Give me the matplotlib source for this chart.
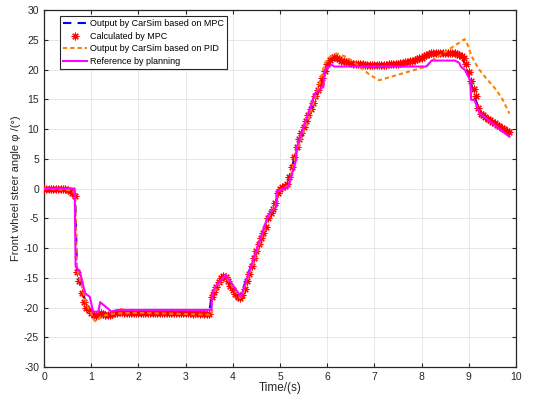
import numpy as np
import matplotlib
matplotlib.use("Agg")
import matplotlib.pyplot as plt
from matplotlib.lines import Line2D

plt.rcParams['font.family'] = ['Liberation Sans', 'DejaVu Sans']
plt.rcParams['axes.unicode_minus'] = False

# Reference by planning (breakpoints)
ref_t = [0, 0.65, 0.67, 0.76, 0.87, 0.97, 1.04, 1.15, 1.19, 1.43, 1.57, 3.55, 3.56, 3.66,
         3.85, 4.17, 4.75, 4.80, 4.92, 4.93, 5.18, 5.34, 5.35, 5.74, 5.92, 5.95, 6.09, 6.15,
         8.10, 8.21, 8.71, 8.80, 8.83, 8.92, 9.03, 9.05, 9.12, 9.23, 9.86]
ref_v = [0, 0, -13.1, -14.0, -17.6, -18.2, -20.7, -20.7, -19.1, -20.7, -20.4, -20.4, -17.6, -16.2,
         -14.5, -18.2, -4.5, -4.0, -3.1, -0.5, 0.3, 4.8, 6.8, 16.0, 17.1, 19.9, 20.8, 20.5,
         20.5, 21.5, 21.5, 21.1, 20.5, 19.9, 18.2, 14.9, 14.9, 12.6, 8.7]

# Output by CarSim based on PID (breakpoints)
pid_t = [0, 0.6, 0.66, 0.70, 0.80, 0.90, 1.00, 1.05, 1.10, 1.15, 1.20, 1.30, 1.50, 2.00, 3.00,
         3.55, 3.56, 3.80, 3.85, 4.15, 4.20, 4.75, 4.92, 4.95, 5.18, 5.35, 5.80, 5.95, 6.05,
         6.20, 6.41, 6.69, 6.90, 7.10, 8.10, 8.24, 8.91, 8.98, 9.05, 9.12, 9.23, 9.37, 9.58,
         9.72, 9.86]
pid_v = [0, -0.3, -1.0, -13.5, -16.5, -19.5, -21.0, -22.0, -22.4, -22.0, -21.5, -21.3, -21.0,
         -20.9, -21.1, -21.2, -18.0, -14.9, -14.8, -18.4, -18.0, -4.8, -2.5, -0.5, 0.5, 6.0,
         16.5, 21.0, 22.1, 22.7, 22.1, 20.5, 19.1, 18.2, 20.5, 21.6, 25.1, 24.1, 22.4, 21.3,
         19.9, 18.5, 16.6, 14.9, 12.6]

# Output by CarSim based on MPC (breakpoints)
mpc_t = [0, 0.6, 0.66, 0.70, 0.80, 0.90, 1.05, 1.15, 1.30, 1.60, 3.50, 3.55, 3.80, 4.15, 4.75,
         4.90, 5.00, 5.15, 5.30, 5.90, 6.10, 6.50, 7.00, 7.50, 8.00, 8.30, 8.60, 8.85, 9.00,
         9.20, 9.30, 9.86]
mpc_v = [0, -0.3, -1.0, -14.0, -17.0, -19.5, -21.0, -21.0, -21.0, -20.9, -21.0, -18.0, -14.8,
         -18.3, -4.8, -2.5, 0.0, 0.6, 5.0, 18.5, 21.8, 21.0, 20.7, 21.0, 22.0, 22.7, 22.8,
         22.3, 19.0, 13.5, 12.2, 9.5]

# Calculated by MPC (sampled every 0.05 s)
calc_dt = 0.05
calc_v = [
    0, 0, 0, 0, 0, 0, 0, 0, 0, -0.1,
    -0.2, -0.4, -0.7, -1.2, -14.0, -15.5, -17.5, -19.0, -20.0, -20.5,
    -20.9, -21.3, -21.5, -21.3, -21.0, -21.1, -21.3, -21.3, -21.2, -21.1,
    -21.0, -20.9, -20.8, -20.8, -20.9, -20.9, -21.0, -20.9, -20.9, -21.0,
    -21.0, -20.9, -21.0, -21.0, -20.9, -21.0, -21.0, -20.9, -21.0, -21.0,
    -21.0, -21.0, -20.9, -21.0, -21.0, -21.0, -20.9, -21.0, -21.0, -21.0,
    -21.0, -21.0, -21.0, -21.1, -21.0, -21.0, -21.1, -21.0, -21.1, -21.1,
    -21.1, -18.2, -17.4, -16.6, -15.7, -15.0, -14.7, -14.9, -15.6, -16.4,
    -17.1, -17.7, -18.2, -18.4, -17.9, -16.9, -15.6, -14.3, -13.0, -11.7,
    -10.5, -9.3, -8.4, -7.5, -6.5, -5.0, -4.1, -3.5, -2.5, -0.8,
    0.0, 0.3, 0.5, 0.8, 1.9, 3.6, 5.3, 7.0, 8.3, 9.3,
    10.3, 11.3, 12.3, 13.3, 14.4, 15.5, 16.5, 17.5, 18.6, 19.8,
    20.9, 21.6, 22.0, 22.1, 21.9, 21.7, 21.5, 21.4, 21.3, 21.2,
    21.1, 21.0, 21.0, 20.9, 20.9, 20.85, 20.8, 20.8, 20.8, 20.75,
    20.75, 20.75, 20.75, 20.8, 20.8, 20.8, 20.85, 20.9, 20.9, 20.95,
    21.0, 21.05, 21.1, 21.2, 21.25, 21.35, 21.45, 21.55, 21.7, 21.85,
    22.0, 22.2, 22.4, 22.6, 22.7, 22.75, 22.8, 22.8, 22.85, 22.85,
    22.85, 22.85, 22.85, 22.8, 22.7, 22.6, 22.4, 22.2, 21.9, 21.0,
    19.5, 18.0, 16.8, 15.5, 13.6, 12.6, 12.3, 12.0, 11.7, 11.5,
    11.2, 11.0, 10.7, 10.5, 10.2, 10.0, 9.7, 9.5,
]
calc_t = np.arange(len(calc_v)) * calc_dt

x_ticks = list(range(0, 11))
y_ticks = list(range(-30, 31, 5))
labels = ['Output by CarSim based on MPC', 'Calculated by MPC',
          'Output by CarSim based on PID', 'Reference by planning']

fig = plt.figure(figsize=(5.33, 4.03), dpi=100)
ax = fig.add_axes([44/533, 1-367/403, (516-44)/533, (367-10)/403])

ax.plot(mpc_t, mpc_v, color='#0000FF', ls=(0, (4, 3)), lw=1.5, zorder=3)
ax.plot(calc_t, calc_v, ls='none', marker=(8, 2, 0), ms=5.5, mew=0.8, color='#FF0000', zorder=4)
ax.plot(pid_t, pid_v, color='#FF8000', ls=(0, (2, 1.5)), lw=1.5, zorder=5)
ax.plot(ref_t, ref_v, color='#FF00FF', lw=1.5, zorder=6)

ax.set_xlim(0, 10)
ax.set_ylim(-30, 30)
ax.set_xticks(x_ticks)
ax.set_yticks(y_ticks)
ax.grid(True, color='#E3E3E3', lw=0.6)
ax.set_axisbelow(True)
ax.tick_params(direction='in', top=True, right=True, labelsize=7.5, length=3,
               colors='#262626', labelcolor='#262626')
for s in ax.spines.values():
    s.set_color('#262626')
    s.set_linewidth(0.9)
ax.set_xlabel('Time/(s)', fontsize=8.5, color='#262626', labelpad=0)
ax.set_ylabel('Front wheel steer angle φ /(°)', fontsize=8, color='#262626', labelpad=2)

handles = [
    Line2D([], [], color='#0000FF', ls=(0, (4, 3)), lw=1.5),
    Line2D([], [], color='#FF0000', ls='none', marker=(8, 2, 0), ms=5.5, mew=0.8),
    Line2D([], [], color='#FF8000', ls=(0, (2, 1.5)), lw=1.5),
    Line2D([], [], color='#FF00FF', lw=1.5),
]
leg = ax.legend(handles, labels, loc='upper left', bbox_to_anchor=(60/533, 1-16/403),
                bbox_transform=fig.transFigure, fontsize=6.5, frameon=True, fancybox=False,
                edgecolor='#262626', framealpha=1, borderaxespad=0, handlelength=2.6,
                handletextpad=0.4, labelspacing=0.4, borderpad=0.35)
leg.get_frame().set_linewidth(0.8)

fig.savefig('out.png', dpi=100)
